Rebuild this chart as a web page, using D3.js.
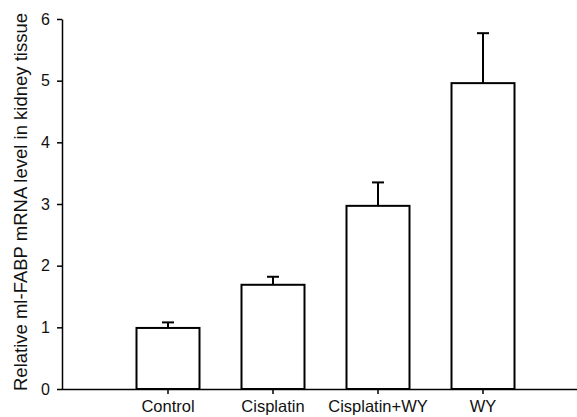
<!doctype html>
<html>
<head>
<meta charset="utf-8"/>
<title>ml-FABP mRNA</title>
<script src="https://d3js.org/d3.v7.min.js"></script>
<style>
  body { margin: 0; background: #fff; }
  svg text { font-family: "Liberation Sans", Arial, sans-serif; fill: #111; }
</style>
</head>
<body>
<div id="chart"></div>
<script>
  // data
  var groups = ["Control", "Cisplatin", "Cisplatin+WY", "WY"];
  var means  = [0.99, 1.69, 2.97, 4.96];
  var errUp  = [0.09, 0.13, 0.38, 0.81];
  var yTicks = [0, 1, 2, 3, 4, 5, 6];

  var svg = d3.select("#chart")
    .append("svg")
    .attr("width", 577)
    .attr("height", 417);

  var x = d3.scaleBand()
    .domain(groups)
    .range([115.5, 535.5])
    .paddingInner(0.4)
    .paddingOuter(0.2);

  var y = d3.scaleLinear()
    .domain([0, 6])
    .range([389, 19]);

  // bars
  svg.selectAll("rect.bar")
    .data(groups)
    .enter().append("rect")
    .attr("class", "bar")
    .attr("x", function(d) { return x(d); })
    .attr("y", function(d, i) { return y(means[i]); })
    .attr("width", x.bandwidth())
    .attr("height", function(d, i) { return y(0) - y(means[i]); })
    .attr("fill", "#fff")
    .attr("stroke", "#000")
    .attr("stroke-width", 2);

  // upper error bars
  var eb = svg.selectAll("g.err")
    .data(groups)
    .enter().append("g")
    .attr("class", "err");

  eb.append("line")
    .attr("x1", function(d) { return x(d) + x.bandwidth() / 2; })
    .attr("x2", function(d) { return x(d) + x.bandwidth() / 2; })
    .attr("y1", function(d, i) { return y(means[i]); })
    .attr("y2", function(d, i) { return y(means[i] + errUp[i]); })
    .attr("stroke", "#000")
    .attr("stroke-width", 2);

  eb.append("line")
    .attr("x1", function(d) { return x(d) + x.bandwidth() / 2 - 6; })
    .attr("x2", function(d) { return x(d) + x.bandwidth() / 2 + 6; })
    .attr("y1", function(d, i) { return y(means[i] + errUp[i]); })
    .attr("y2", function(d, i) { return y(means[i] + errUp[i]); })
    .attr("stroke", "#000")
    .attr("stroke-width", 2);

  // y axis
  var yAxis = svg.append("g")
    .attr("transform", "translate(62,0)")
    .call(d3.axisLeft(y).tickValues(yTicks).tickFormat(d3.format("d"))
      .tickSize(5).tickSizeOuter(0).tickPadding(7));
  yAxis.select(".domain").attr("stroke-width", 1.5);
  yAxis.selectAll(".tick line").attr("stroke-width", 1.5);
  yAxis.selectAll("text").style("font-size", "16px");

  // x axis
  var xAxis = svg.append("g")
    .attr("transform", "translate(0,389)")
    .call(d3.axisBottom(x).tickSize(5).tickSizeOuter(0).tickPadding(6));
  xAxis.select(".domain").attr("d", "M62,0.5H577").attr("stroke-width", 1.5);
  xAxis.selectAll(".tick line").attr("stroke-width", 1.5);
  xAxis.selectAll("text").style("font-size", "16.5px");

  // y axis title
  svg.append("text")
    .attr("transform", "translate(27,202) rotate(-90)")
    .attr("text-anchor", "middle")
    .style("font-size", "18.5px")
    .text("Relative ml-FABP mRNA level in kidney tissue");
</script>
</body>
</html>
